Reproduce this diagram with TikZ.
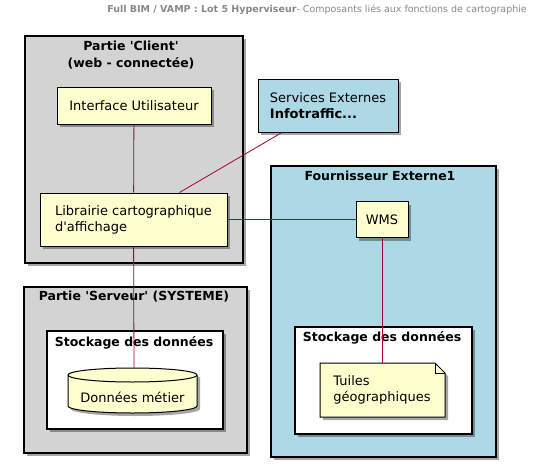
\documentclass[tikz,border=0pt]{standalone}
\usepackage{fontspec}
\setmainfont{DejaVu Sans}[Ligatures=TeXOff]
\usetikzlibrary{shadows}
\definecolor{compyellow}{HTML}{FEFECE}
\definecolor{extblue}{HTML}{ADD8E6}
\definecolor{packgray}{HTML}{D3D3D3}
\definecolor{linkred}{HTML}{A80036}
\definecolor{titlegray}{HTML}{888888}
\tikzset{
	shade/.style={drop shadow={shadow xshift=3pt,shadow yshift=-3pt,fill=black,opacity=.35}},
	pack/.style={draw=black,line width=1.5pt,shade,inner sep=0pt,anchor=north west},
	packtitle/.style={font=\fontsize{12.5}{17}\selectfont\bfseries,align=center,inner sep=0pt},
	comptext/.style={font=\fontsize{13}{16}\selectfont,align=left,inner sep=0pt},
	comp/.style={comptext,draw=black,fill=compyellow,line width=1pt,shade},
	shapebox/.style={draw=black,fill=compyellow,line width=1pt,shade},
	link/.style={draw=linkred,line width=0.8pt}
}

\begin{document}
\begin{tikzpicture}[x=1pt,y=-1pt]
	\useasboundingbox (0,0) rectangle (539,466);
	\node[anchor=base east,text=titlegray,font=\fontsize{9.5}{11}\selectfont,inner sep=0pt] (title) at (527,12) {\textbf{Full BIM / VAMP : Lot 5 Hyperviseur}- Composants liés aux fonctions de cartographie};
	\node[pack,fill=packgray,minimum width=218,minimum height=227] (client) at (24,35) {};
	\node[pack,fill=packgray,minimum width=223,minimum height=166] (serveur) at (23,286) {};
	\node[pack,fill=extblue,minimum width=225,minimum height=291] (fourn) at (270,165) {};
	\node[pack,fill=white,minimum width=176,minimum height=98] (stock1) at (46,330) {};
	\node[pack,fill=white,minimum width=177,minimum height=107] (stock2) at (294,326) {};
	\node[packtitle,anchor=north] (clienttitle) at (131,41) {Partie 'Client'\\(web - connectée)};
	\node[packtitle,anchor=base] (serveurtitle) at (134,300.7) {Partie 'Serveur' (SYSTEME)};
	\node[packtitle,anchor=base] (fourntitle) at (380,180.7) {Fournisseur Externe1};
	\node[packtitle,anchor=base] (stock1title) at (134,346) {Stockage des données};
	\node[packtitle,anchor=base] (stock2title) at (382,341.7) {Stockage des données};
	\node[comp,minimum width=154,minimum height=37] (iu) at (134,105.5) {Interface Utilisateur};
	\node[comp,minimum width=187,minimum height=53] (lib) at (133.5,219.5) {Librairie cartographique\\d'affichage};
	\node[comp,fill=extblue,minimum width=140,minimum height=53] (srv) at (328,105.5) {Services Externes\\\textbf{Infotraffic...}};
	\node[comp,minimum width=52,minimum height=36] (wms) at (382,219.5) {WMS};
	\path[shapebox] (320,363) -- (435,363) -- (445,373) -- (445,417) -- (320,417) -- cycle;
	\draw[line width=1pt] (435,363) |- (445,373);
	\node[comptext,minimum width=125,minimum height=54] (tuiles) at (382,390) {Tuiles\\géographiques};
	\path[shapebox] (68,375) -- (68,406) arc[start angle=180,end angle=360,x radius=64.5pt,y radius=7pt] -- (197,375) arc[start angle=0,end angle=180,x radius=64.5pt,y radius=7pt] -- cycle;
	\draw[line width=1pt] (68,375) arc[start angle=180,end angle=360,x radius=64.5pt,y radius=7pt];
	\node[comptext,minimum width=129,minimum height=31] (db) at (132.5,397.5) {Données métier};
	\coordinate (dbtop) at (134,368);
	\draw[link] (iu) -- (lib);
	\draw[link] (srv) -- (lib);
	\draw[link] (lib) -- (wms);
	\draw[link] (lib) -- (dbtop);
	\draw[link] (wms) -- (tuiles);
\end{tikzpicture}
\end{document}
